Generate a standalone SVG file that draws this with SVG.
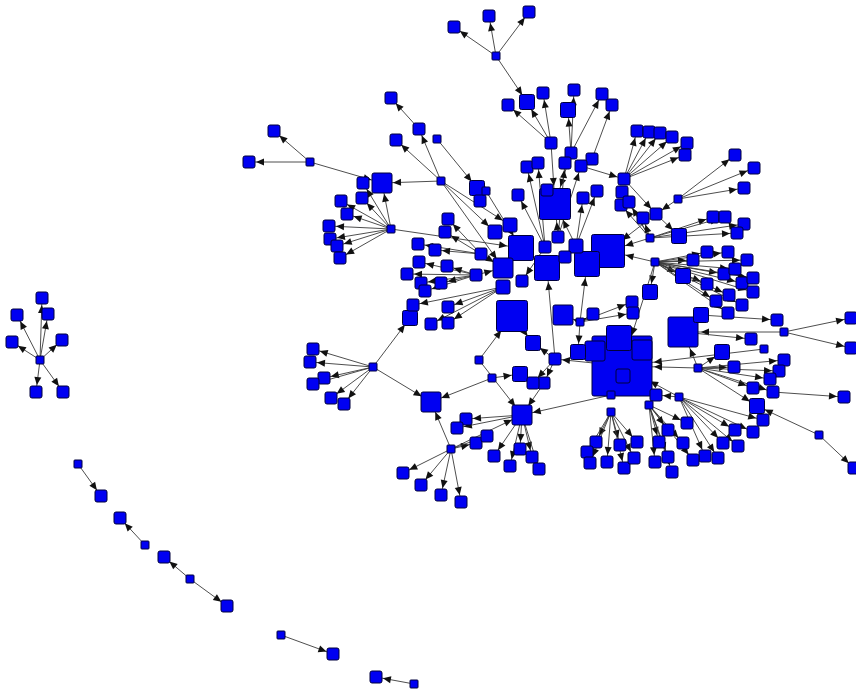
<svg xmlns="http://www.w3.org/2000/svg" width="856" height="692" viewBox="0 0 856 692">
<style>
.e line{stroke:#3a3a3a;stroke-width:0.9;fill:none}
.a12{marker-end:url(#m12)}
.a15{marker-end:url(#m15)}
.a20{marker-end:url(#m20)}
.a25{marker-end:url(#m25)}
.a31{marker-end:url(#m31)}
.a60{marker-end:url(#m60)}
.nodes rect{fill:#0000f2;stroke:#00003c;stroke-width:1;rx:2px;ry:2px}
.nodes rect[width="8"]{rx:0.8px;ry:0.8px}
.ah{fill:#111}
</style>
<defs>
<marker id="m12" markerUnits="userSpaceOnUse" orient="auto" overflow="visible" markerWidth="1" markerHeight="1"><path class="ah" d="M-15,-3.5L-7,0L-15,3.5z"/></marker>
<marker id="m15" markerUnits="userSpaceOnUse" orient="auto" overflow="visible" markerWidth="1" markerHeight="1"><path class="ah" d="M-16.5,-3.5L-8.5,0L-16.5,3.5z"/></marker>
<marker id="m20" markerUnits="userSpaceOnUse" orient="auto" overflow="visible" markerWidth="1" markerHeight="1"><path class="ah" d="M-19,-3.5L-11,0L-19,3.5z"/></marker>
<marker id="m25" markerUnits="userSpaceOnUse" orient="auto" overflow="visible" markerWidth="1" markerHeight="1"><path class="ah" d="M-22,-3.5L-14,0L-22,3.5z"/></marker>
<marker id="m31" markerUnits="userSpaceOnUse" orient="auto" overflow="visible" markerWidth="1" markerHeight="1"><path class="ah" d="M-26,-3.5L-18,0L-26,3.5z"/></marker>
<marker id="m60" markerUnits="userSpaceOnUse" orient="auto" overflow="visible" markerWidth="1" markerHeight="1"><path class="ah" d="M-40,-3.5L-32,0L-40,3.5z"/></marker>
</defs>
<rect width="856" height="692" fill="#fff"/>
<g id="edges" class="e">
<line class="a12" x1="40" y1="360" x2="42" y2="298"/>
<line class="a12" x1="40" y1="360" x2="17" y2="315"/>
<line class="a12" x1="40" y1="360" x2="48" y2="314"/>
<line class="a12" x1="40" y1="360" x2="12" y2="342"/>
<line class="a12" x1="40" y1="360" x2="62" y2="340"/>
<line class="a12" x1="40" y1="360" x2="36" y2="392"/>
<line class="a12" x1="40" y1="360" x2="63" y2="392"/>
<line class="a12" x1="78" y1="464" x2="101" y2="496"/>
<line class="a12" x1="145" y1="545" x2="120" y2="518"/>
<line class="a12" x1="190" y1="579" x2="164" y2="557"/>
<line class="a12" x1="190" y1="579" x2="227" y2="606"/>
<line class="a12" x1="281" y1="635" x2="333" y2="654"/>
<line class="a12" x1="414" y1="684" x2="376" y2="677"/>
<line class="a12" x1="496" y1="56" x2="454" y2="27"/>
<line class="a12" x1="496" y1="56" x2="489" y2="16"/>
<line class="a12" x1="496" y1="56" x2="529" y2="12"/>
<line class="a15" x1="496" y1="56" x2="527" y2="102"/>
<line class="a12" x1="551" y1="143" x2="508" y2="105"/>
<line class="a15" x1="551" y1="143" x2="527" y2="102"/>
<line class="a12" x1="551" y1="143" x2="543" y2="93"/>
<line class="a31" x1="551" y1="143" x2="555" y2="204"/>
<line class="a15" x1="571" y1="153" x2="568" y2="110"/>
<line class="a12" x1="571" y1="153" x2="574" y2="90"/>
<line class="a12" x1="571" y1="153" x2="602" y2="94"/>
<line class="a31" x1="571" y1="153" x2="555" y2="204"/>
<line class="a12" x1="592" y1="159" x2="612" y2="105"/>
<line class="a12" x1="545" y1="247" x2="527" y2="167"/>
<line class="a12" x1="545" y1="247" x2="538" y2="163"/>
<line class="a12" x1="558" y1="237" x2="565" y2="163"/>
<line class="a12" x1="558" y1="237" x2="581" y2="166"/>
<line class="a12" x1="545" y1="247" x2="518" y2="195"/>
<line class="a12" x1="576" y1="246" x2="597" y2="191"/>
<line class="a12" x1="576" y1="246" x2="583" y2="198"/>
<line class="a12" x1="581" y1="166" x2="624" y2="179"/>
<line class="a12" x1="624" y1="179" x2="637" y2="131"/>
<line class="a12" x1="624" y1="179" x2="649" y2="132"/>
<line class="a12" x1="624" y1="179" x2="660" y2="133"/>
<line class="a12" x1="624" y1="179" x2="672" y2="137"/>
<line class="a12" x1="624" y1="179" x2="687" y2="143"/>
<line class="a12" x1="624" y1="179" x2="685" y2="155"/>
<line class="a12" x1="624" y1="179" x2="656" y2="214"/>
<line class="a12" x1="650" y1="238" x2="622" y2="192"/>
<line class="a12" x1="650" y1="238" x2="621" y2="205"/>
<line class="a12" x1="650" y1="238" x2="629" y2="202"/>
<line class="a12" x1="678" y1="199" x2="735" y2="155"/>
<line class="a12" x1="678" y1="199" x2="754" y2="168"/>
<line class="a12" x1="678" y1="199" x2="744" y2="188"/>
<line class="a12" x1="678" y1="199" x2="656" y2="214"/>
<line class="a15" x1="656" y1="214" x2="679" y2="236"/>
<line class="a31" x1="656" y1="214" x2="608" y2="251"/>
<line class="a31" x1="650" y1="238" x2="608" y2="251"/>
<line class="a12" x1="650" y1="238" x2="643" y2="218"/>
<line class="a12" x1="650" y1="238" x2="713" y2="217"/>
<line class="a12" x1="650" y1="238" x2="725" y2="217"/>
<line class="a12" x1="650" y1="238" x2="744" y2="224"/>
<line class="a12" x1="650" y1="238" x2="737" y2="233"/>
<line class="a12" x1="655" y1="262" x2="707" y2="252"/>
<line class="a12" x1="655" y1="262" x2="728" y2="252"/>
<line class="a12" x1="655" y1="262" x2="693" y2="260"/>
<line class="a12" x1="655" y1="262" x2="747" y2="260"/>
<line class="a15" x1="655" y1="262" x2="683" y2="276"/>
<line class="a12" x1="655" y1="262" x2="724" y2="274"/>
<line class="a12" x1="655" y1="262" x2="735" y2="269"/>
<line class="a12" x1="655" y1="262" x2="707" y2="284"/>
<line class="a12" x1="655" y1="262" x2="742" y2="283"/>
<line class="a12" x1="655" y1="262" x2="753" y2="278"/>
<line class="a12" x1="655" y1="262" x2="753" y2="292"/>
<line class="a12" x1="655" y1="262" x2="729" y2="295"/>
<line class="a12" x1="655" y1="262" x2="716" y2="301"/>
<line class="a12" x1="655" y1="262" x2="742" y2="305"/>
<line class="a12" x1="655" y1="262" x2="728" y2="313"/>
<line class="a31" x1="655" y1="262" x2="608" y2="251"/>
<line class="a15" x1="655" y1="262" x2="650" y2="292"/>
<line class="a60" x1="655" y1="262" x2="622" y2="366"/>
<line class="a31" x1="698" y1="368" x2="683" y2="332"/>
<line class="a15" x1="698" y1="368" x2="722" y2="352"/>
<line class="a12" x1="698" y1="368" x2="734" y2="367"/>
<line class="a12" x1="698" y1="368" x2="784" y2="360"/>
<line class="a12" x1="698" y1="368" x2="779" y2="371"/>
<line class="a12" x1="698" y1="368" x2="770" y2="379"/>
<line class="a12" x1="698" y1="368" x2="753" y2="388"/>
<line class="a12" x1="698" y1="368" x2="773" y2="392"/>
<line class="a15" x1="698" y1="368" x2="757" y2="406"/>
<line class="a60" x1="698" y1="368" x2="622" y2="366"/>
<line class="a12" x1="701" y1="315" x2="777" y2="320"/>
<line class="a12" x1="784" y1="332" x2="851" y2="318"/>
<line class="a12" x1="784" y1="332" x2="851" y2="348"/>
<line class="a31" x1="784" y1="332" x2="683" y2="332"/>
<line class="a12" x1="683" y1="332" x2="751" y2="339"/>
<line class="a60" x1="764" y1="349" x2="622" y2="366"/>
<line class="a12" x1="773" y1="392" x2="844" y2="397"/>
<line class="a15" x1="819" y1="435" x2="757" y2="406"/>
<line class="a12" x1="819" y1="435" x2="854" y2="468"/>
<line class="a12" x1="679" y1="397" x2="763" y2="420"/>
<line class="a12" x1="679" y1="397" x2="753" y2="432"/>
<line class="a12" x1="679" y1="397" x2="735" y2="430"/>
<line class="a12" x1="679" y1="397" x2="723" y2="443"/>
<line class="a12" x1="679" y1="397" x2="738" y2="446"/>
<line class="a12" x1="679" y1="397" x2="705" y2="456"/>
<line class="a12" x1="679" y1="397" x2="718" y2="458"/>
<line class="a12" x1="679" y1="397" x2="656" y2="395"/>
<line class="a60" x1="679" y1="397" x2="622" y2="366"/>
<line class="a12" x1="649" y1="405" x2="687" y2="423"/>
<line class="a12" x1="649" y1="405" x2="683" y2="443"/>
<line class="a12" x1="649" y1="405" x2="693" y2="460"/>
<line class="a12" x1="649" y1="405" x2="659" y2="442"/>
<line class="a12" x1="649" y1="405" x2="668" y2="430"/>
<line class="a12" x1="649" y1="405" x2="655" y2="462"/>
<line class="a12" x1="649" y1="405" x2="668" y2="457"/>
<line class="a12" x1="649" y1="405" x2="672" y2="472"/>
<line class="a12" x1="611" y1="412" x2="596" y2="442"/>
<line class="a12" x1="611" y1="412" x2="587" y2="452"/>
<line class="a12" x1="611" y1="412" x2="590" y2="463"/>
<line class="a12" x1="611" y1="412" x2="607" y2="462"/>
<line class="a12" x1="611" y1="412" x2="620" y2="445"/>
<line class="a12" x1="611" y1="412" x2="624" y2="468"/>
<line class="a12" x1="611" y1="412" x2="637" y2="442"/>
<line class="a12" x1="611" y1="412" x2="634" y2="458"/>
<line class="a20" x1="611" y1="395" x2="522" y2="415"/>
<line class="a20" x1="441" y1="181" x2="382" y2="183"/>
<line class="a12" x1="441" y1="181" x2="396" y2="140"/>
<line class="a12" x1="441" y1="181" x2="419" y2="129"/>
<line class="a15" x1="441" y1="181" x2="495" y2="232"/>
<line class="a15" x1="441" y1="181" x2="510" y2="225"/>
<line class="a20" x1="441" y1="181" x2="503" y2="268"/>
<line class="a12" x1="419" y1="129" x2="391" y2="98"/>
<line class="a15" x1="437" y1="139" x2="477" y2="188"/>
<line class="a12" x1="310" y1="162" x2="274" y2="131"/>
<line class="a12" x1="310" y1="162" x2="249" y2="162"/>
<line class="a20" x1="310" y1="162" x2="382" y2="183"/>
<line class="a12" x1="391" y1="229" x2="341" y2="201"/>
<line class="a12" x1="391" y1="229" x2="347" y2="214"/>
<line class="a12" x1="391" y1="229" x2="329" y2="226"/>
<line class="a12" x1="391" y1="229" x2="330" y2="239"/>
<line class="a12" x1="391" y1="229" x2="337" y2="246"/>
<line class="a12" x1="391" y1="229" x2="340" y2="258"/>
<line class="a12" x1="391" y1="229" x2="362" y2="198"/>
<line class="a12" x1="391" y1="229" x2="363" y2="183"/>
<line class="a20" x1="391" y1="229" x2="382" y2="183"/>
<line class="a25" x1="391" y1="229" x2="521" y2="248"/>
<line class="a12" x1="481" y1="254" x2="448" y2="219"/>
<line class="a12" x1="481" y1="254" x2="445" y2="232"/>
<line class="a12" x1="481" y1="254" x2="418" y2="244"/>
<line class="a12" x1="481" y1="254" x2="435" y2="250"/>
<line class="a12" x1="476" y1="275" x2="419" y2="262"/>
<line class="a12" x1="476" y1="275" x2="447" y2="266"/>
<line class="a12" x1="476" y1="275" x2="407" y2="274"/>
<line class="a12" x1="476" y1="275" x2="421" y2="283"/>
<line class="a12" x1="476" y1="275" x2="425" y2="291"/>
<line class="a12" x1="476" y1="275" x2="441" y2="283"/>
<line class="a12" x1="503" y1="287" x2="413" y2="305"/>
<line class="a12" x1="503" y1="287" x2="448" y2="307"/>
<line class="a12" x1="503" y1="287" x2="431" y2="324"/>
<line class="a12" x1="503" y1="287" x2="448" y2="323"/>
<line class="a12" x1="373" y1="367" x2="313" y2="349"/>
<line class="a12" x1="373" y1="367" x2="310" y2="362"/>
<line class="a12" x1="373" y1="367" x2="324" y2="378"/>
<line class="a12" x1="373" y1="367" x2="313" y2="384"/>
<line class="a12" x1="373" y1="367" x2="331" y2="398"/>
<line class="a12" x1="373" y1="367" x2="344" y2="404"/>
<line class="a15" x1="373" y1="367" x2="410" y2="318"/>
<line class="a20" x1="373" y1="367" x2="431" y2="402"/>
<line class="a31" x1="479" y1="360" x2="512" y2="316"/>
<line class="a20" x1="479" y1="360" x2="522" y2="415"/>
<line class="a15" x1="492" y1="378" x2="520" y2="374"/>
<line class="a20" x1="492" y1="378" x2="431" y2="402"/>
<line class="a15" x1="555" y1="359" x2="533" y2="343"/>
<line class="a12" x1="555" y1="359" x2="533" y2="383"/>
<line class="a12" x1="555" y1="359" x2="544" y2="383"/>
<line class="a25" x1="555" y1="359" x2="547" y2="268"/>
<line class="a20" x1="544" y1="383" x2="522" y2="415"/>
<line class="a12" x1="451" y1="449" x2="403" y2="473"/>
<line class="a12" x1="451" y1="449" x2="421" y2="485"/>
<line class="a12" x1="451" y1="449" x2="441" y2="495"/>
<line class="a12" x1="451" y1="449" x2="461" y2="502"/>
<line class="a20" x1="451" y1="449" x2="431" y2="402"/>
<line class="a20" x1="451" y1="449" x2="522" y2="415"/>
<line class="a12" x1="451" y1="449" x2="476" y2="443"/>
<line class="a12" x1="451" y1="449" x2="487" y2="436"/>
<line class="a12" x1="522" y1="415" x2="466" y2="419"/>
<line class="a12" x1="522" y1="415" x2="457" y2="428"/>
<line class="a12" x1="522" y1="415" x2="494" y2="456"/>
<line class="a12" x1="522" y1="415" x2="520" y2="449"/>
<line class="a12" x1="522" y1="415" x2="510" y2="466"/>
<line class="a12" x1="522" y1="415" x2="532" y2="457"/>
<line class="a12" x1="522" y1="415" x2="539" y2="469"/>
<line class="a20" x1="580" y1="322" x2="563" y2="315"/>
<line class="a12" x1="580" y1="322" x2="593" y2="314"/>
<line class="a12" x1="580" y1="322" x2="632" y2="302"/>
<line class="a12" x1="580" y1="322" x2="633" y2="313"/>
<line class="a25" x1="580" y1="322" x2="587" y2="264"/>
<line class="a15" x1="580" y1="322" x2="578" y2="352"/>
<line class="a25" x1="486" y1="191" x2="521" y2="248"/>
<line class="a12" x1="486" y1="191" x2="480" y2="201"/>
<line class="a20" x1="476" y1="275" x2="503" y2="268"/>
<line class="a20" x1="481" y1="254" x2="503" y2="268"/>
<line class="a15" x1="512" y1="316" x2="533" y2="343"/>
<line class="a12" x1="622" y1="366" x2="555" y2="359"/>
<line class="a31" x1="558" y1="237" x2="555" y2="204"/>
<line class="a31" x1="576" y1="246" x2="555" y2="204"/>
<line class="a12" x1="545" y1="247" x2="522" y2="281"/>
<line class="a25" x1="565" y1="257" x2="547" y2="268"/>
<line class="a25" x1="576" y1="246" x2="587" y2="264"/>
</g>
<g class="nodes">
<g id="n151"><rect x="592" y="336" width="60" height="60"/></g>
<g id="n142"><rect x="591.5" y="234.5" width="33" height="33"/></g>
<g id="n39"><rect x="539.5" y="188.5" width="31" height="31"/></g>
<g id="n136"><rect x="496.5" y="300.5" width="31" height="31"/></g>
<g id="n82"><rect x="668" y="317" width="30" height="30"/></g>
<g id="n137"><rect x="508.5" y="235.5" width="25" height="25"/></g>
<g id="n138"><rect x="534.5" y="255.5" width="25" height="25"/></g>
<g id="n141"><rect x="574.5" y="251.5" width="25" height="25"/></g>
<g id="n152"><rect x="606.5" y="325.5" width="25" height="25"/></g>
<g id="n222"><rect x="632" y="340" width="20" height="20"/></g>
<g id="n153"><rect x="585" y="341" width="20" height="20"/></g>
<g id="n134"><rect x="493" y="258" width="20" height="20"/></g>
<g id="n145"><rect x="553" y="305" width="20" height="20"/></g>
<g id="n174"><rect x="512" y="405" width="20" height="20"/></g>
<g id="n189"><rect x="421" y="392" width="20" height="20"/></g>
<g id="n208"><rect x="372" y="173" width="20" height="20"/></g>
<g id="n154"><rect x="570.5" y="344.5" width="15" height="15"/></g>
<g id="n155"><rect x="616" y="369" width="14" height="14"/></g>
<g id="n24"><rect x="519.5" y="94.5" width="15" height="15"/></g>
<g id="n27"><rect x="560.5" y="102.5" width="15" height="15"/></g>
<g id="n59"><rect x="671.5" y="228.5" width="15" height="15"/></g>
<g id="n70"><rect x="675.5" y="268.5" width="15" height="15"/></g>
<g id="n81"><rect x="693.5" y="307.5" width="15" height="15"/></g>
<g id="n89"><rect x="714.5" y="344.5" width="15" height="15"/></g>
<g id="n97"><rect x="749.5" y="398.5" width="15" height="15"/></g>
<g id="n111"><rect x="642.5" y="284.5" width="15" height="15"/></g>
<g id="n112"><rect x="469.5" y="180.5" width="15" height="15"/></g>
<g id="n115"><rect x="488" y="225" width="14" height="14"/></g>
<g id="n116"><rect x="503" y="218" width="14" height="14"/></g>
<g id="n130"><rect x="402.5" y="310.5" width="15" height="15"/></g>
<g id="n135"><rect x="496" y="280" width="14" height="14"/></g>
<g id="n140"><rect x="569" y="239" width="14" height="14"/></g>
<g id="n192"><rect x="512.5" y="366.5" width="15" height="15"/></g>
<g id="n193"><rect x="525.5" y="335.5" width="15" height="15"/></g>
<g id="n2"><rect x="36" y="292" width="12" height="12"/></g>
<g id="n3"><rect x="11" y="309" width="12" height="12"/></g>
<g id="n4"><rect x="42" y="308" width="12" height="12"/></g>
<g id="n5"><rect x="6" y="336" width="12" height="12"/></g>
<g id="n6"><rect x="56" y="334" width="12" height="12"/></g>
<g id="n7"><rect x="30" y="386" width="12" height="12"/></g>
<g id="n8"><rect x="57" y="386" width="12" height="12"/></g>
<g id="n10"><rect x="95" y="490" width="12" height="12"/></g>
<g id="n11"><rect x="114" y="512" width="12" height="12"/></g>
<g id="n13"><rect x="158" y="551" width="12" height="12"/></g>
<g id="n15"><rect x="221" y="600" width="12" height="12"/></g>
<g id="n17"><rect x="327" y="648" width="12" height="12"/></g>
<g id="n18"><rect x="370" y="671" width="12" height="12"/></g>
<g id="n21"><rect x="448" y="21" width="12" height="12"/></g>
<g id="n22"><rect x="483" y="10" width="12" height="12"/></g>
<g id="n23"><rect x="523" y="6" width="12" height="12"/></g>
<g id="n25"><rect x="502" y="99" width="12" height="12"/></g>
<g id="n26"><rect x="537" y="87" width="12" height="12"/></g>
<g id="n28"><rect x="568" y="84" width="12" height="12"/></g>
<g id="n29"><rect x="596" y="88" width="12" height="12"/></g>
<g id="n30"><rect x="606" y="99" width="12" height="12"/></g>
<g id="n31"><rect x="545" y="137" width="12" height="12"/></g>
<g id="n32"><rect x="565" y="147" width="12" height="12"/></g>
<g id="n33"><rect x="586" y="153" width="12" height="12"/></g>
<g id="n34"><rect x="521" y="161" width="12" height="12"/></g>
<g id="n35"><rect x="532" y="157" width="12" height="12"/></g>
<g id="n36"><rect x="559" y="157" width="12" height="12"/></g>
<g id="n37"><rect x="575" y="160" width="12" height="12"/></g>
<g id="n38"><rect x="618" y="173" width="12" height="12"/></g>
<g id="n40"><rect x="541" y="184" width="12" height="12"/></g>
<g id="n41"><rect x="512" y="189" width="12" height="12"/></g>
<g id="n42"><rect x="591" y="185" width="12" height="12"/></g>
<g id="n43"><rect x="577" y="192" width="12" height="12"/></g>
<g id="n44"><rect x="616" y="186" width="12" height="12"/></g>
<g id="n45"><rect x="615" y="199" width="12" height="12"/></g>
<g id="n46"><rect x="623" y="196" width="12" height="12"/></g>
<g id="n47"><rect x="631" y="125" width="12" height="12"/></g>
<g id="n48"><rect x="643" y="126" width="12" height="12"/></g>
<g id="n49"><rect x="654" y="127" width="12" height="12"/></g>
<g id="n50"><rect x="666" y="131" width="12" height="12"/></g>
<g id="n51"><rect x="681" y="137" width="12" height="12"/></g>
<g id="n52"><rect x="679" y="149" width="12" height="12"/></g>
<g id="n54"><rect x="729" y="149" width="12" height="12"/></g>
<g id="n55"><rect x="748" y="162" width="12" height="12"/></g>
<g id="n56"><rect x="738" y="182" width="12" height="12"/></g>
<g id="n57"><rect x="650" y="208" width="12" height="12"/></g>
<g id="n58"><rect x="637" y="212" width="12" height="12"/></g>
<g id="n61"><rect x="707" y="211" width="12" height="12"/></g>
<g id="n62"><rect x="719" y="211" width="12" height="12"/></g>
<g id="n63"><rect x="738" y="218" width="12" height="12"/></g>
<g id="n64"><rect x="731" y="227" width="12" height="12"/></g>
<g id="n65"><rect x="701" y="246" width="12" height="12"/></g>
<g id="n66"><rect x="722" y="246" width="12" height="12"/></g>
<g id="n67"><rect x="687" y="254" width="12" height="12"/></g>
<g id="n69"><rect x="741" y="254" width="12" height="12"/></g>
<g id="n71"><rect x="718" y="268" width="12" height="12"/></g>
<g id="n72"><rect x="729" y="263" width="12" height="12"/></g>
<g id="n73"><rect x="701" y="278" width="12" height="12"/></g>
<g id="n74"><rect x="736" y="277" width="12" height="12"/></g>
<g id="n75"><rect x="747" y="272" width="12" height="12"/></g>
<g id="n76"><rect x="747" y="286" width="12" height="12"/></g>
<g id="n77"><rect x="723" y="289" width="12" height="12"/></g>
<g id="n78"><rect x="710" y="295" width="12" height="12"/></g>
<g id="n79"><rect x="736" y="299" width="12" height="12"/></g>
<g id="n80"><rect x="722" y="307" width="12" height="12"/></g>
<g id="n83"><rect x="771" y="314" width="12" height="12"/></g>
<g id="n85"><rect x="845" y="312" width="12" height="12"/></g>
<g id="n86"><rect x="845" y="342" width="12" height="12"/></g>
<g id="n87"><rect x="745" y="333" width="12" height="12"/></g>
<g id="n91"><rect x="728" y="361" width="12" height="12"/></g>
<g id="n92"><rect x="778" y="354" width="12" height="12"/></g>
<g id="n93"><rect x="773" y="365" width="12" height="12"/></g>
<g id="n94"><rect x="764" y="373" width="12" height="12"/></g>
<g id="n95"><rect x="747" y="382" width="12" height="12"/></g>
<g id="n96"><rect x="767" y="386" width="12" height="12"/></g>
<g id="n98"><rect x="838" y="391" width="12" height="12"/></g>
<g id="n99"><rect x="757" y="414" width="12" height="12"/></g>
<g id="n101"><rect x="848" y="462" width="12" height="12"/></g>
<g id="n102"><rect x="747" y="426" width="12" height="12"/></g>
<g id="n103"><rect x="729" y="424" width="12" height="12"/></g>
<g id="n104"><rect x="681" y="417" width="12" height="12"/></g>
<g id="n105"><rect x="717" y="437" width="12" height="12"/></g>
<g id="n106"><rect x="732" y="440" width="12" height="12"/></g>
<g id="n107"><rect x="699" y="450" width="12" height="12"/></g>
<g id="n108"><rect x="712" y="452" width="12" height="12"/></g>
<g id="n109"><rect x="687" y="454" width="12" height="12"/></g>
<g id="n110"><rect x="677" y="437" width="12" height="12"/></g>
<g id="n114"><rect x="474" y="195" width="12" height="12"/></g>
<g id="n117"><rect x="442" y="213" width="12" height="12"/></g>
<g id="n118"><rect x="439" y="226" width="12" height="12"/></g>
<g id="n119"><rect x="475" y="248" width="12" height="12"/></g>
<g id="n120"><rect x="412" y="238" width="12" height="12"/></g>
<g id="n121"><rect x="429" y="244" width="12" height="12"/></g>
<g id="n122"><rect x="413" y="256" width="12" height="12"/></g>
<g id="n123"><rect x="441" y="260" width="12" height="12"/></g>
<g id="n124"><rect x="401" y="268" width="12" height="12"/></g>
<g id="n125"><rect x="415" y="277" width="12" height="12"/></g>
<g id="n126"><rect x="419" y="285" width="12" height="12"/></g>
<g id="n127"><rect x="435" y="277" width="12" height="12"/></g>
<g id="n128"><rect x="470" y="269" width="12" height="12"/></g>
<g id="n129"><rect x="407" y="299" width="12" height="12"/></g>
<g id="n131"><rect x="442" y="301" width="12" height="12"/></g>
<g id="n132"><rect x="425" y="318" width="12" height="12"/></g>
<g id="n133"><rect x="442" y="317" width="12" height="12"/></g>
<g id="n139"><rect x="559" y="251" width="12" height="12"/></g>
<g id="n143"><rect x="552" y="231" width="12" height="12"/></g>
<g id="n144"><rect x="539" y="241" width="12" height="12"/></g>
<g id="n146"><rect x="587" y="308" width="12" height="12"/></g>
<g id="n148"><rect x="626" y="296" width="12" height="12"/></g>
<g id="n149"><rect x="627" y="307" width="12" height="12"/></g>
<g id="n156"><rect x="650" y="389" width="12" height="12"/></g>
<g id="n161"><rect x="590" y="436" width="12" height="12"/></g>
<g id="n162"><rect x="581" y="446" width="12" height="12"/></g>
<g id="n163"><rect x="584" y="457" width="12" height="12"/></g>
<g id="n164"><rect x="601" y="456" width="12" height="12"/></g>
<g id="n165"><rect x="614" y="439" width="12" height="12"/></g>
<g id="n166"><rect x="618" y="462" width="12" height="12"/></g>
<g id="n167"><rect x="631" y="436" width="12" height="12"/></g>
<g id="n168"><rect x="628" y="452" width="12" height="12"/></g>
<g id="n169"><rect x="653" y="436" width="12" height="12"/></g>
<g id="n170"><rect x="662" y="424" width="12" height="12"/></g>
<g id="n171"><rect x="649" y="456" width="12" height="12"/></g>
<g id="n172"><rect x="662" y="451" width="12" height="12"/></g>
<g id="n173"><rect x="666" y="466" width="12" height="12"/></g>
<g id="n175"><rect x="460" y="413" width="12" height="12"/></g>
<g id="n176"><rect x="451" y="422" width="12" height="12"/></g>
<g id="n177"><rect x="488" y="450" width="12" height="12"/></g>
<g id="n178"><rect x="514" y="443" width="12" height="12"/></g>
<g id="n179"><rect x="504" y="460" width="12" height="12"/></g>
<g id="n180"><rect x="526" y="451" width="12" height="12"/></g>
<g id="n181"><rect x="533" y="463" width="12" height="12"/></g>
<g id="n182"><rect x="470" y="437" width="12" height="12"/></g>
<g id="n183"><rect x="481" y="430" width="12" height="12"/></g>
<g id="n185"><rect x="397" y="467" width="12" height="12"/></g>
<g id="n186"><rect x="415" y="479" width="12" height="12"/></g>
<g id="n187"><rect x="435" y="489" width="12" height="12"/></g>
<g id="n188"><rect x="455" y="496" width="12" height="12"/></g>
<g id="n190"><rect x="538" y="377" width="12" height="12"/></g>
<g id="n191"><rect x="527" y="377" width="12" height="12"/></g>
<g id="n194"><rect x="549" y="353" width="12" height="12"/></g>
<g id="n198"><rect x="307" y="343" width="12" height="12"/></g>
<g id="n199"><rect x="304" y="356" width="12" height="12"/></g>
<g id="n200"><rect x="318" y="372" width="12" height="12"/></g>
<g id="n201"><rect x="307" y="378" width="12" height="12"/></g>
<g id="n202"><rect x="325" y="392" width="12" height="12"/></g>
<g id="n203"><rect x="338" y="398" width="12" height="12"/></g>
<g id="n204"><rect x="268" y="125" width="12" height="12"/></g>
<g id="n205"><rect x="243" y="156" width="12" height="12"/></g>
<g id="n207"><rect x="357" y="177" width="12" height="12"/></g>
<g id="n209"><rect x="356" y="192" width="12" height="12"/></g>
<g id="n211"><rect x="335" y="195" width="12" height="12"/></g>
<g id="n212"><rect x="341" y="208" width="12" height="12"/></g>
<g id="n213"><rect x="323" y="220" width="12" height="12"/></g>
<g id="n214"><rect x="324" y="233" width="12" height="12"/></g>
<g id="n215"><rect x="331" y="240" width="12" height="12"/></g>
<g id="n216"><rect x="334" y="252" width="12" height="12"/></g>
<g id="n217"><rect x="385" y="92" width="12" height="12"/></g>
<g id="n218"><rect x="413" y="123" width="12" height="12"/></g>
<g id="n219"><rect x="390" y="134" width="12" height="12"/></g>
<g id="n223"><rect x="516" y="275" width="12" height="12"/></g>
<g id="n1"><rect x="36" y="356" width="8" height="8"/></g>
<g id="n9"><rect x="74" y="460" width="8" height="8"/></g>
<g id="n12"><rect x="141" y="541" width="8" height="8"/></g>
<g id="n14"><rect x="186" y="575" width="8" height="8"/></g>
<g id="n16"><rect x="277" y="631" width="8" height="8"/></g>
<g id="n19"><rect x="410" y="680" width="8" height="8"/></g>
<g id="n20"><rect x="492" y="52" width="8" height="8"/></g>
<g id="n53"><rect x="674" y="195" width="8" height="8"/></g>
<g id="n60"><rect x="646" y="234" width="8" height="8"/></g>
<g id="n68"><rect x="651" y="258" width="8" height="8"/></g>
<g id="n84"><rect x="780" y="328" width="8" height="8"/></g>
<g id="n88"><rect x="760" y="345" width="8" height="8"/></g>
<g id="n90"><rect x="694" y="364" width="8" height="8"/></g>
<g id="n100"><rect x="815" y="431" width="8" height="8"/></g>
<g id="n113"><rect x="482" y="187" width="8" height="8"/></g>
<g id="n147"><rect x="576" y="318" width="8" height="8"/></g>
<g id="n157"><rect x="645" y="401" width="8" height="8"/></g>
<g id="n158"><rect x="675" y="393" width="8" height="8"/></g>
<g id="n159"><rect x="607" y="391" width="8" height="8"/></g>
<g id="n160"><rect x="607" y="408" width="8" height="8"/></g>
<g id="n184"><rect x="447" y="445" width="8" height="8"/></g>
<g id="n195"><rect x="475" y="356" width="8" height="8"/></g>
<g id="n196"><rect x="488" y="374" width="8" height="8"/></g>
<g id="n197"><rect x="369" y="363" width="8" height="8"/></g>
<g id="n206"><rect x="306" y="158" width="8" height="8"/></g>
<g id="n210"><rect x="387" y="225" width="8" height="8"/></g>
<g id="n220"><rect x="433" y="135" width="8" height="8"/></g>
<g id="n221"><rect x="437" y="177" width="8" height="8"/></g>
</g>
</svg>
